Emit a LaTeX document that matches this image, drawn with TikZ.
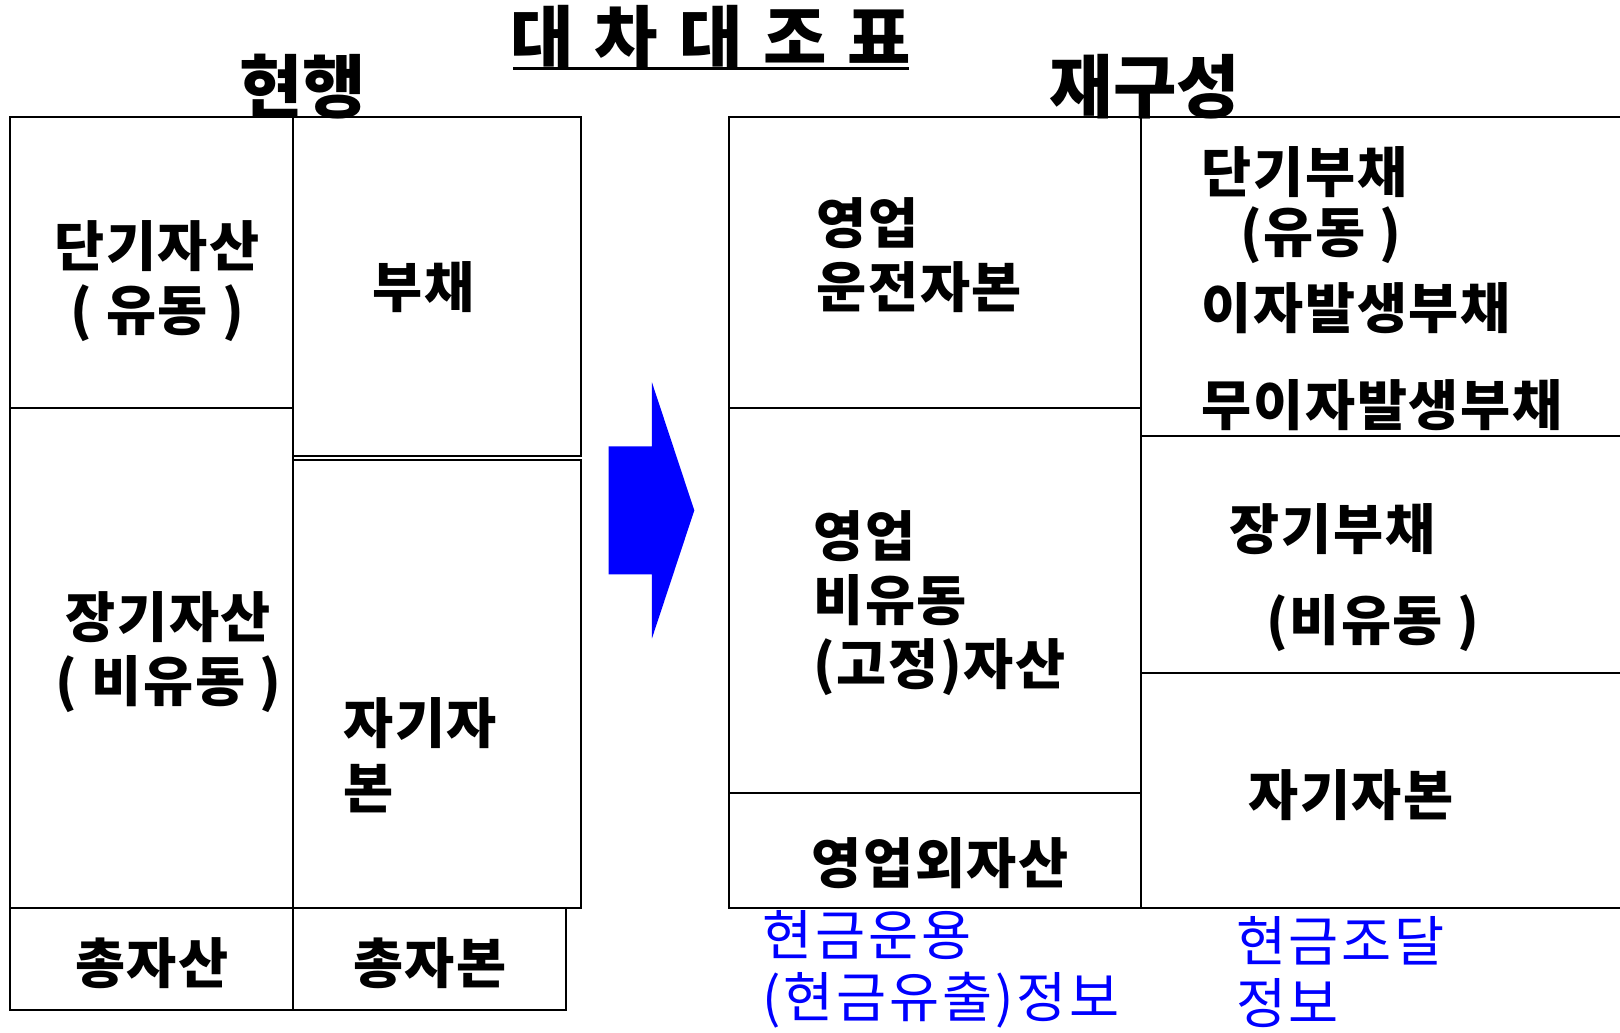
\documentclass[tikz,border=0pt]{standalone}
\usepackage{fontspec}
\setmainfont{Noto Sans CJK KR}[BoldFont={Noto Sans CJK KR Black}]
\definecolor{arrowblue}{RGB}{0,0,255}

\begin{document}
\begin{tikzpicture}[x=0.02cm, y=-0.02cm,
    every node/.style={inner sep=0pt, font=\fontsize{30}{35.3}\selectfont\bfseries\addfontfeature{LetterSpace=3}},
    cell/.style={draw, line width=1.1pt},
    centertext/.style={align=center},
    lefttext/.style={anchor=west, align=left},
    heading/.style={font=\fontsize{38}{44}\selectfont\bfseries},
    note/.style={anchor=west, align=left, text=arrowblue, font=\fontsize{30}{34}\selectfont\addfontfeature{LetterSpace=5}}]

\useasboundingbox (0,0) rectangle (1568,999);

% Title
\node[heading] (title) at (688,36) {대\hspace{0.3em}차\hspace{0.3em}대\hspace{0.3em}조\hspace{0.3em}표};
\draw[line width=1.7pt] (497,66) -- (880,66);

% Headings
\node[heading] (current) at (293,84) {현행};
\node[heading] (rebuilt) at (1108,84) {재구성};

% Current sheet
\draw[cell] (10,113) rectangle (284,395);
\draw[cell] (10,395) rectangle (284,879);
\draw[cell] (284,113) rectangle (562,441);
\draw[cell] (284,445) rectangle (562,879);
\draw[cell] (10,879) rectangle (284,978);
\draw[cell] (284,879) rectangle (548,978);

\node[centertext] (shortasset) at (152,272) {단기자산\\( 유동 )};
\node (liab) at (410,278) {부채};
\node[centertext] (longasset) at (163,631) {장기자산\\( 비유동 )};
\node[lefttext] (equity) at (332,731) {자기자\\본};
\node (totalasset) at (147,932) {총자산};
\node (totalcap) at (416,932) {총자본};

% Arrow
\fill[arrowblue] (589,432) -- (631,432) -- (631,370) -- (672,494)
    -- (631,618) -- (631,556) -- (589,556) -- cycle;

% Rebuilt sheet
\draw[cell] (706,113) rectangle (1104,395);
\draw[cell] (706,395) rectangle (1104,768);
\draw[cell] (706,768) rectangle (1104,879);
\draw[cell] (1104,113) -- (1568,113);
\draw[cell] (1104,422) -- (1568,422);
\draw[cell] (1104,651) -- (1568,651);
\draw[cell] (1104,879) -- (1568,879);

\node[lefttext] (workcap) at (790,247) {영업\\운전자본};
\node[lefttext] (fixasset) at (787,584) {영업\\비유동\\(고정)자산};
\node (nonop) at (910,835) {영업외자산};

\node[lefttext] (shortdebt) at (1163,167) {단기부채};
\node[lefttext] (flow) at (1200,228) {(유동 )};
\node[lefttext] (intdebt) at (1163,298) {이자발생부채};
\node[lefttext] (nointdebt) at (1163,392) {무이자발생부채};
\node[lefttext] (longdebt) at (1190,512) {장기부채};
\node[lefttext] (nonflow) at (1225,603) {(비유동 )};
\node[lefttext] (ownequity) at (1208,770) {자기자본};

% Cash notes
\node[note] (useinfo) at (738,938) {현금운용\\(현금유출)정보};
\node[note] (raiseinfo) at (1196,941) {현금조달\\정보};

\end{tikzpicture}
\end{document}
